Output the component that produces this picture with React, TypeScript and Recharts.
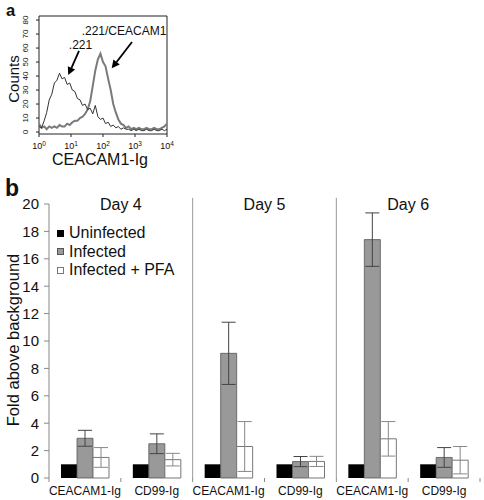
import React from 'react';
import {
  LineChart, Line, XAxis, YAxis, ReferenceArea, ReferenceLine,
  BarChart, Bar, ErrorBar, Legend, Label,
} from 'recharts';

const FONT = '"Liberation Sans", Arial, Helvetica, sans-serif';

// ---------- Panel a: flow cytometry histogram ----------
const fluorescence = [
  1.0, 1.2, 1.45, 1.74, 2.09, 2.51, 3.02, 3.63, 4.37, 5.25,
  6.31, 7.59, 9.12, 11.0, 13.2, 15.8, 19.1, 22.9, 27.5, 33.1,
  39.8, 47.9, 57.5, 69.2, 83.2, 100, 120, 145, 174, 209,
  251, 302, 363, 437, 525, 631, 759, 912, 1096, 1318,
  1585, 1905, 2291, 2754, 3311, 3981, 4786, 5754, 6918, 8318, 10000,
];
const counts221 = [
  4, 3, 8, 14, 23, 27, 35, 37, 42, 38,
  39, 34, 35, 30, 29, 24, 23, 19, 20, 16,
  17, 13, 19, 11, 9, 10, 6, 7, 4, 5,
  3, 4, 2, 3, 2, 2, 1, 2, 1, 2,
  1, 1, 2, 1, 1, 2, 1, 1, 2, 1, 2,
];
const counts221Ceacam1 = [
  6, 3, 4, 2, 4, 3, 4, 3, 5, 4,
  4, 6, 5, 7, 8, 8, 10, 11, 13, 16,
  22, 33, 44, 52, 56, 50, 47, 38, 30, 20,
  14, 9, 6, 5, 3, 4, 2, 3, 2, 3,
  2, 2, 3, 2, 2, 3, 2, 2, 3, 4, 6,
];
const histXTicks = [1, 10, 100, 1000, 10000];
const histXExponents = ['0', '1', '2', '3', '4'];
const histYTicks = [0, 10, 20, 30, 40, 50, 60, 70, 80];
const histYDomain: [number, number] = [-1.4, 82.9];

const histData = fluorescence.map((x, i) => ({
  x,
  parental: counts221[i],
  transfected: counts221Ceacam1[i],
}));

// ---------- Panel b: grouped bars ----------
const days = ['Day 4', 'Day 5', 'Day 6'];
const reagents = ['CEACAM1-Ig', 'CD99-Ig'];
const uninfected = [1, 1, 1, 1, 1, 1];
const infected = [2.9, 2.5, 9.1, 1.2, 17.4, 1.5];
const infectedErr = [0.58, 0.72, 2.27, 0.37, 1.95, 0.72];
const infectedPfa = [1.5, 1.34, 2.3, 1.21, 2.86, 1.3];
const infectedPfaErr = [0.72, 0.46, 1.82, 0.37, 1.26, 1.0];
const foldTicks = [0, 2, 4, 6, 8, 10, 12, 14, 16, 18, 20];
const groupTicks = [0, 0.5, 1, 1.5, 2, 2.5, 3, 3.5, 4, 4.5, 5, 5.5, 6];
const seriesKeys = ['u', 'inf', 'pfa'];
const seriesNames = ['Uninfected', 'Infected', 'Infected + PFA'];

const barData = uninfected.map((u, i) => ({
  cat: `${days[Math.floor(i / 2)]} ${reagents[i % 2]}`,
  pos: i + 0.5,
  u,
  inf: infected[i],
  infErr: infectedErr[i],
  pfa: infectedPfa[i],
  pfaErr: infectedPfaErr[i],
}));

const legendStyle: Record<string, { fill: string; stroke: string }> = {
  u: { fill: '#000', stroke: '#000' },
  inf: { fill: '#999', stroke: '#555' },
  pfa: { fill: '#fff', stroke: '#777' },
};

const LogTick = (p: any) => (
  <text x={p.x} y={p.y + 10} textAnchor="middle" fontSize={9} fontFamily={FONT} fill="#111">
    10<tspan dy={-3.5} fontSize={6.5}>{histXExponents[p.index]}</tspan>
  </text>
);

const RotTick = (p: any) => {
  const bx = p.x - 6;
  return (
    <text x={bx} y={p.y} transform={`rotate(-90 ${bx} ${p.y})`} textAnchor="middle" fontSize={8}
      fontFamily={FONT} fill="#111">
      {p.payload.value}
    </text>
  );
};

// Bottom axis of panel b: boundary tick marks at integers, reagent labels at half positions.
const AXIS_B_Y = 308; // plot bottom inside the bar chart (330 - 22)
const GroupTick = (p: any) => {
  const v = p.payload.value;
  if (Number.isInteger(v)) {
    return <line x1={p.x} x2={p.x} y1={AXIS_B_Y} y2={AXIS_B_Y + 4} stroke="#888" strokeWidth={1} />;
  }
  return (
    <text x={p.x} y={AXIS_B_Y + 17} textAnchor="middle" fontSize={12} fontFamily={FONT} fill="#111">
      {reagents[Math.floor(v) % 2]}
    </text>
  );
};

const makeArrow = (text: string, dx: number, dy: number) => (p: any) => {
  const { x1, y1, x2, y2 } = p;
  const ang = Math.atan2(y2 - y1, x2 - x1);
  const L = 8;
  const W = 4;
  const bx = x2 - L * Math.cos(ang);
  const by = y2 - L * Math.sin(ang);
  const px = -Math.sin(ang) * W;
  const py = Math.cos(ang) * W;
  return (
    <g>
      <line x1={x1} y1={y1} x2={bx} y2={by} stroke="#000" strokeWidth={1.8} />
      <polygon points={`${x2},${y2} ${bx + px},${by + py} ${bx - px},${by - py}`} fill="#000" />
      <text x={x1 + dx} y={y1 + dy} textAnchor="middle" fontSize={12} fontFamily={FONT} fill="#111">
        {text}
      </text>
    </g>
  );
};

const LegendContent = (props: any) => {
  const payload = [...(props.payload || [])].sort(
    (a: any, b: any) => seriesKeys.indexOf(a.dataKey) - seriesKeys.indexOf(b.dataKey),
  );
  return (
    <div style={{ fontFamily: FONT, fontSize: 16, color: '#111' }}>
      {payload.map((e: any, i: number) => {
        const s = legendStyle[e.dataKey] || { fill: e.color, stroke: e.color };
        return (
          <div key={i} style={{ display: 'flex', alignItems: 'center', height: 18.5, whiteSpace: 'nowrap' }}>
            <span style={{
              display: 'inline-block', width: 5, height: 5, background: s.fill,
              border: `1px solid ${s.stroke}`, marginRight: 5,
            }} />
            <span>{e.value}</span>
          </div>
        );
      })}
    </div>
  );
};

export default function App() {
  return (
    <div style={{ position: 'absolute', left: 0, top: 0, width: 484, height: 500, background: '#fff', fontFamily: FONT }}>
      <svg width={30} height={22} style={{ position: 'absolute', left: 0, top: 0 }}>
        <text x={6} y={15.5} fontSize={16.5} fontWeight="bold" fontFamily={FONT} fill="#111">a</text>
      </svg>
      <svg width={30} height={30} style={{ position: 'absolute', left: 0, top: 170 }}>
        <text x={5} y={26} fontSize={23} fontWeight="bold" fontFamily={FONT} fill="#111">b</text>
      </svg>

      <div style={{ position: 'absolute', left: 0, top: 0 }}>
        <LineChart width={200} height={175} data={histData} margin={{ top: 16, right: 33, bottom: 5, left: 9 }}>
          <XAxis dataKey="x" type="number" scale="log" domain={[1, 10000]} ticks={histXTicks} interval={0}
            allowDataOverflow axisLine={false} tickLine={{ stroke: '#222' }} tickSize={3} tickMargin={2}
            height={36} tick={<LogTick />}>
            <Label content={() => (
              <text x={100} y={165} textAnchor="middle" fontSize={16} fontFamily={FONT} fill="#111">CEACAM1-Ig</text>
            )} />
          </XAxis>
          <YAxis type="number" domain={histYDomain} ticks={histYTicks} interval={0} allowDataOverflow
            axisLine={false} tickLine={{ stroke: '#222' }} tickSize={3} tickMargin={2} width={30} tick={<RotTick />}>
            <Label content={() => (
              <text x={18.5} y={79} transform="rotate(-90 18.5 79)" textAnchor="middle" fontSize={15}
                fontFamily={FONT} fill="#111">Counts</text>
            )} />
          </YAxis>
          <ReferenceArea x1={1} x2={10000} y1={histYDomain[0]} y2={histYDomain[1]} fill="none"
            fillOpacity={0} stroke="#222" strokeWidth={1} ifOverflow="visible" />
          <Line dataKey="transfected" type="linear" stroke="#7a7a7a" strokeWidth={2} dot={false}
            isAnimationActive={false} />
          <Line dataKey="parental" type="linear" stroke="#333" strokeWidth={1} dot={false}
            isAnimationActive={false} />
          <ReferenceLine segment={[{ x: 17.8, y: 58 }, { x: 8.2, y: 40.7 }]} ifOverflow="visible"
            shape={makeArrow('.221', 1.5, -2)} />
          <ReferenceLine segment={[{ x: 806, y: 64.3 }, { x: 187, y: 45.5 }]} ifOverflow="visible"
            shape={makeArrow('.221/CEACAM1', -8, -7)} />
        </LineChart>
      </div>

      <div style={{ position: 'absolute', left: 0, top: 170 }}>
        <BarChart width={484} height={330} data={barData} margin={{ top: 34, right: 4, bottom: 0, left: 0 }}
          barGap={0} barSize={16}>
          <XAxis xAxisId="cat" dataKey="cat" hide />
          <XAxis xAxisId="num" dataKey="pos" type="number" domain={[0, 6]} ticks={groupTicks} interval={0}
            allowDataOverflow axisLine={{ stroke: '#888' }} tickLine={false} tickSize={0} tickMargin={0}
            height={22} tick={<GroupTick />} />
          <YAxis domain={[0, 20]} ticks={foldTicks} interval={0} width={49} tickSize={5} tickMargin={5}
            axisLine={{ stroke: '#888' }} tickLine={{ stroke: '#888' }}
            tick={{ fontSize: 15, fill: '#111', fontFamily: FONT }}>
            <Label content={() => (
              <text x={18.5} y={170} transform="rotate(-90 18.5 170)" textAnchor="middle" fontSize={16.5}
                fontFamily={FONT} fill="#111">Fold above background</text>
            )} />
          </YAxis>
          <Legend layout="vertical" align="center" verticalAlign="middle"
            wrapperStyle={{ left: 57, top: 54, width: 'auto', height: 'auto' }} content={<LegendContent />} />
          {days.map((d, i) => (
            <ReferenceArea key={d} xAxisId="num" x1={i * 2} x2={i * 2 + 2} y1={0} y2={20} fillOpacity={0}
              strokeOpacity={0} ifOverflow="visible"
              label={{ value: d, position: 'insideTop', offset: -5, fontSize: 16, fill: '#111', fontFamily: FONT }} />
          ))}
          {[2, 4].map((v) => (
            <ReferenceLine key={v} xAxisId="num" segment={[{ x: v, y: 0 }, { x: v, y: 20.45 }]}
              stroke="#999" strokeWidth={1} ifOverflow="visible" />
          ))}
          <Bar xAxisId="cat" dataKey="u" name={seriesNames[0]} fill="#000" isAnimationActive={false} />
          <Bar xAxisId="cat" dataKey="inf" name={seriesNames[1]} fill="#999" stroke="#555" strokeWidth={0.8}
            isAnimationActive={false}>
            <ErrorBar dataKey="infErr" width={7} stroke="#444" strokeWidth={1} />
          </Bar>
          <Bar xAxisId="cat" dataKey="pfa" name={seriesNames[2]} fill="#fff" stroke="#777" strokeWidth={1}
            isAnimationActive={false}>
            <ErrorBar dataKey="pfaErr" width={7} stroke="#888" strokeWidth={1} />
          </Bar>
        </BarChart>
      </div>
    </div>
  );
}
